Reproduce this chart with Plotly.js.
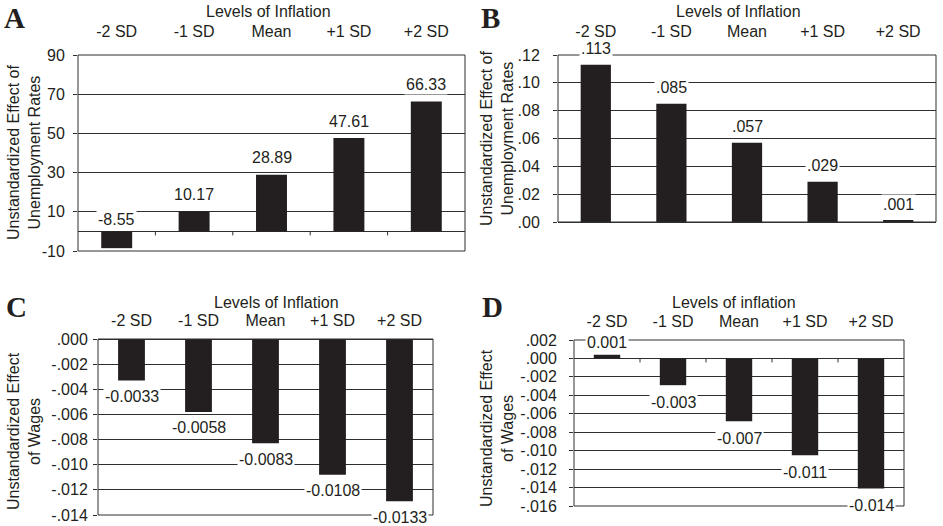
<!DOCTYPE html>
<html>
<head>
<meta charset="utf-8">
<script src="https://cdn.plot.ly/plotly-3.0.1.min.js"></script>
<style>html,body{margin:0;padding:0;background:#fff;}#chart{width:943px;height:526px;}</style>
</head>
<body>
<div id="chart"></div>
<script>
// ---- data ----
const categories = ['-2 SD', '-1 SD', 'Mean', '+1 SD', '+2 SD'];

const valuesA = [-8.55, 10.17, 28.89, 47.61, 66.33];
const labelsA = ['-8.55', '10.17', '28.89', '47.61', '66.33'];
const tickValsA = [-10, 10, 30, 50, 70, 90];
const tickTextA = ['-10', '10', '30', '50', '70', '90'];

const valuesB = [0.113, 0.085, 0.057, 0.029, 0.001];
const labelsB = ['.113', '.085', '.057', '.029', '.001'];
const tickValsB = [0, 0.02, 0.04, 0.06, 0.08, 0.10, 0.12];
const tickTextB = ['.00', '.02', '.04', '.06', '.08', '.10', '.12'];

const valuesC = [-0.0033, -0.0058, -0.0083, -0.0108, -0.0129];
const labelsC = ['-0.0033', '-0.0058', '-0.0083', '-0.0108', '-0.0133'];
const tickValsC = [0, -0.002, -0.004, -0.006, -0.008, -0.010, -0.012, -0.014];
const tickTextC = ['.000', '-.002', '-.004', '-.006', '-.008', '-.010', '-.012', '-.014'];

const valuesD = [0.0004, -0.0029, -0.0068, -0.0105, -0.0141];
const labelsD = ['0.001', '-0.003', '-0.007', '-0.011', '-0.014'];
const tickValsD = [0.002, 0, -0.002, -0.004, -0.006, -0.008, -0.010, -0.012, -0.014, -0.016];
const tickTextD = ['.002', '.000', '-.002', '-.004', '-.006', '-.008', '-.010', '-.012', '-.014', '-.016'];

const panelLetters = ['A', 'B', 'C', 'D'];
const xTitles = ['Levels of Inflation', 'Levels of Inflation', 'Levels of Inflation', 'Levels of inflation'];
const yTitles = ['Unstandardized Effect of<br>Unemployment Rates', 'Unstandardized Effect of<br>Unemployment Rates',
                 'Unstandardized Effect<br>of Wages', 'Unstandardized Effect<br>of Wages'];

// ---- styling / layout ----
const W = 943, H = 526;
const FONT = 'Liberation Sans, Arial, Helvetica, sans-serif';
const TXT = '#231f20';
const LINE = '#2e2e2e';
const BAR = '#231f20';

// pixel boxes of each plot area: [left, right, top, bottom]
const boxes = [
  [78, 465, 55, 251],
  [558, 936, 55, 222],
  [98, 433, 339, 515],
  [574, 904, 340, 506]
];
const ranges = [[-10, 90], [0, 0.12], [-0.014, 0], [-0.016, 0.002]];
const panels = [
  {v: valuesA, l: labelsA, tv: tickValsA, tt: tickTextA},
  {v: valuesB, l: labelsB, tv: tickValsB, tt: tickTextB},
  {v: valuesC, l: labelsC, tv: tickValsC, tt: tickTextC},
  {v: valuesD, l: labelsD, tv: tickValsD, tt: tickTextD}
];
const yStandoff = [5, 10, 2, 9];
const xStandoff = [14, 14, 9, 9];
const tickDir = [-4, -4, 4, -4];
const labelShiftPos = [17, 16, 16, 12];
const labelShiftNeg = [12, 16, 16, 17];
const letterPos = [[15, 18], [490, 18], [16, 307], [492, 307]];
const xTitlePos = [[268, 11], [738, 11], [276, 302], [734, 302]];
const yTitlePos = [[24, 153], [497, 138], [24, 431], [497, 428]];

const px = x => x / W;
const py = y => 1 - y / H;

const data = [];
const layout = {
  width: W, height: H,
  margin: {l: 0, r: 0, t: 0, b: 0},
  paper_bgcolor: '#fff', plot_bgcolor: '#fff',
  showlegend: false,
  bargap: 0.6,
  font: {family: FONT, size: 16, color: TXT},
  shapes: [], annotations: []
};

panels.forEach((p, i) => {
  const n = i + 1;
  const xa = n === 1 ? 'x' : 'x' + n;
  const ya = n === 1 ? 'y' : 'y' + n;
  const b = boxes[i];
  data.push({
    type: 'bar', x: categories, y: p.v, xaxis: xa, yaxis: ya,
    marker: {color: BAR}, hoverinfo: 'none'
  });
  layout['xaxis' + (n === 1 ? '' : n)] = {
    type: 'category', domain: [px(b[0]), px(b[1])], anchor: ya, side: 'top',
    showline: false, showgrid: false, zeroline: false, ticks: '',
    tickfont: {family: FONT, size: 16, color: TXT},
    ticklabelstandoff: xStandoff[i], fixedrange: true
  };
  layout['yaxis' + (n === 1 ? '' : n)] = {
    domain: [py(b[3]), py(b[2])], anchor: xa, range: ranges[i],
    tickmode: 'array', tickvals: p.tv, ticktext: p.tt,
    showgrid: true, gridcolor: LINE, gridwidth: 1,
    zeroline: true, zerolinecolor: LINE, zerolinewidth: 1,
    showline: false,
    ticks: 'outside', ticklen: 4, tickcolor: LINE, tickwidth: 1,
    tickfont: {family: FONT, size: 16, color: TXT},
    ticklabelstandoff: yStandoff[i], fixedrange: true
  };
  // plot frame
  layout.shapes.push({
    type: 'rect', xref: xa + ' domain', yref: ya + ' domain',
    x0: 0, x1: 1, y0: 0, y1: 1, line: {color: LINE, width: 1}, layer: 'above'
  });
  // category boundary ticks on the zero line
  [0.5, 1.5, 2.5, 3.5].forEach(bx => {
    layout.shapes.push({
      type: 'line', xref: xa, yref: ya, x0: bx, x1: bx,
      ysizemode: 'pixel', yanchor: 0, y0: 0, y1: tickDir[i],
      line: {color: LINE, width: 1}
    });
  });
  // data labels
  const posChart = i < 2;
  p.v.forEach((v, k) => {
    let y, shift;
    if (v >= 0) { y = v; shift = labelShiftPos[i]; }
    else if (posChart) { y = 0; shift = labelShiftNeg[i]; }
    else { y = v; shift = -labelShiftNeg[i]; }
    layout.annotations.push({
      xref: xa, yref: ya, x: categories[k], y: y, yshift: shift,
      xanchor: 'center', yanchor: 'middle', showarrow: false,
      text: p.l[k], bgcolor: '#fff', borderpad: 1,
      font: {family: FONT, size: 16, color: TXT}
    });
  });
  // panel letter
  layout.annotations.push({
    xref: 'paper', yref: 'paper', x: px(letterPos[i][0]), y: py(letterPos[i][1]),
    xanchor: 'center', yanchor: 'middle', showarrow: false,
    text: '<b>' + panelLetters[i] + '</b>',
    font: {family: 'Liberation Serif, DejaVu Serif, serif', size: 29, color: TXT}
  });
  // x title
  layout.annotations.push({
    xref: 'paper', yref: 'paper', x: px(xTitlePos[i][0]), y: py(xTitlePos[i][1]),
    xanchor: 'center', yanchor: 'middle', showarrow: false,
    text: xTitles[i], font: {family: FONT, size: 16, color: TXT}
  });
  // y title
  layout.annotations.push({
    xref: 'paper', yref: 'paper', x: px(yTitlePos[i][0]), y: py(yTitlePos[i][1]),
    xanchor: 'center', yanchor: 'middle', showarrow: false, textangle: -90,
    text: yTitles[i], font: {family: FONT, size: 16, color: TXT}
  });
});

Plotly.newPlot('chart', data, layout, {displayModeBar: false});
</script>
</body>
</html>
